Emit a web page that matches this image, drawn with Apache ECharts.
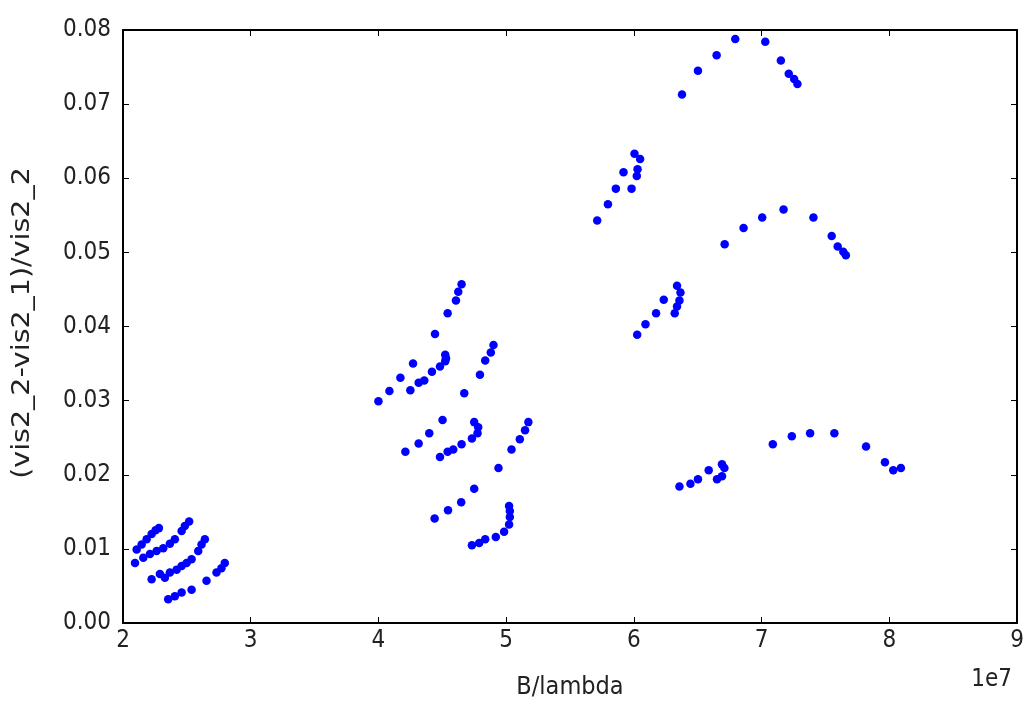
<!DOCTYPE html>
<html>
<head>
<meta charset="utf-8">
<script src="https://cdn.jsdelivr.net/npm/echarts@6/dist/echarts.min.js"></script>
<style>
html,body{margin:0;padding:0;background:#fff;}
#chart{width:1032px;height:705px;}
</style>
</head>
<body>
<div id="chart"></div>
<script>
// B/lambda values in units of 1e7 (axis shows offset "1e7")
const xScale = 1e7;
const xTicks = [2, 3, 4, 5, 6, 7, 8, 9];
const yTicks = [0, 0.01, 0.02, 0.03, 0.04, 0.05, 0.06, 0.07, 0.08];
const xName = 'B/lambda';
const yName = '(vis2_2-vis2_1)/vis2_2';

const bLambda = [
  // short baselines cluster
  2.107, 2.146, 2.185, 2.224, 2.255, 2.281,
  2.459, 2.484, 2.518,
  2.094, 2.159, 2.211, 2.263, 2.315, 2.367, 2.406,
  2.589, 2.615, 2.641,
  2.224, 2.289, 2.328, 2.367, 2.420, 2.459, 2.498, 2.537,
  2.654, 2.732, 2.771, 2.797,
  2.354, 2.406, 2.459, 2.537,
  // middle cluster
  4.443, 4.542, 4.607, 4.625, 4.651,
  4.000, 4.086, 4.172, 4.271,
  4.250, 4.315, 4.359, 4.419, 4.482, 4.523, 4.529, 4.523,
  4.672, 4.795, 4.836, 4.880, 4.901,
  4.211, 4.315, 4.398, 4.502,
  4.482, 4.542, 4.586, 4.651, 4.732, 4.776, 4.781, 4.750,
  4.940, 5.042, 5.107, 5.148, 5.174,
  4.440, 4.545, 4.648, 4.750,
  4.732, 4.789, 4.836, 4.919, 4.984, 5.023, 5.029, 5.029, 5.023,
  // long baselines
  5.713, 5.797, 5.859, 5.919, 5.982, 6.023, 6.029, 6.005, 6.049,
  6.026, 6.091, 6.174, 6.234, 6.320, 6.338, 6.357, 6.365, 6.338,
  6.377, 6.502, 6.648, 6.794, 7.029, 7.151, 7.213, 7.255, 7.281,
  6.711, 6.859, 7.005, 7.172, 7.406, 7.549, 7.596, 7.640, 7.660,
  6.357, 6.443, 6.502, 6.586, 6.651, 6.690, 6.709, 6.690,
  7.088, 7.237, 7.380, 7.570, 7.818, 7.966, 8.031, 8.091
];

const visRatio = [
  0.0099, 0.0106, 0.0113, 0.0120, 0.0125, 0.0128,
  0.0124, 0.0131, 0.0137,
  0.0081, 0.0088, 0.0093, 0.0097, 0.0101, 0.0107, 0.0113,
  0.0097, 0.0106, 0.0113,
  0.0059, 0.0066, 0.0061, 0.0068, 0.0072, 0.0077, 0.0081, 0.0086,
  0.0057, 0.0068, 0.0074, 0.0081,
  0.0032, 0.0036, 0.0041, 0.0045,
  0.0390, 0.0418, 0.0435, 0.0447, 0.0457,
  0.0299, 0.0313, 0.0331, 0.0350,
  0.0314, 0.0324, 0.0327, 0.0339, 0.0346, 0.0353, 0.0357, 0.0362,
  0.0310, 0.0335, 0.0354, 0.0365, 0.0375,
  0.0231, 0.0242, 0.0256, 0.0274,
  0.0224, 0.0231, 0.0234, 0.0241, 0.0249, 0.0256, 0.0264, 0.0271,
  0.0209, 0.0234, 0.0248, 0.0260, 0.0271,
  0.0141, 0.0152, 0.0163, 0.0181,
  0.0105, 0.0108, 0.0113, 0.0116, 0.0123, 0.0133, 0.0143, 0.0151, 0.0158,
  0.0543, 0.0565, 0.0586, 0.0608, 0.0586, 0.0603, 0.0612, 0.0633, 0.0626,
  0.0389, 0.0403, 0.0418, 0.0436, 0.0418, 0.0427, 0.0435, 0.0446, 0.0455,
  0.0713, 0.0745, 0.0766, 0.0788, 0.0784, 0.0759, 0.0741, 0.0734, 0.0727,
  0.0511, 0.0533, 0.0547, 0.0558, 0.0547, 0.0522, 0.0508, 0.0501, 0.0496,
  0.0184, 0.0188, 0.0194, 0.0206, 0.0194, 0.0198, 0.0209, 0.0214,
  0.0241, 0.0252, 0.0256, 0.0256, 0.0238, 0.0217, 0.0206, 0.0209
];

const points = bLambda.map((b, i) => [b * xScale, visRatio[i]]);

const FONT = "'Liberation Sans Narrow', 'DejaVu Sans Condensed', 'DejaVu Sans', sans-serif";
const FS = 24;

const chart = echarts.init(document.getElementById('chart'), null, {renderer: 'canvas'});

const axisLineStyle = {show: true, onZero: false, lineStyle: {color: '#000', width: 2}};
const tickStyle = {show: true, inside: true, length: 6, lineStyle: {color: '#000', width: 1}};

chart.setOption({
  animation: false,
  backgroundColor: '#fff',
  grid: {left: 123, right: 15, top: 30, bottom: 82, containLabel: false},
  xAxis: [{
    type: 'value', min: xTicks[0] * xScale, max: xTicks[xTicks.length - 1] * xScale, interval: xScale,
    axisLine: axisLineStyle, axisTick: tickStyle, splitLine: {show: false},
    axisLabel: {color: '#222', fontFamily: FONT, fontSize: FS, margin: 6,
      formatter: v => String(Math.round(v / xScale))},
    name: xName, nameLocation: 'middle', nameGap: 52,
    nameTextStyle: {color: '#222', fontFamily: FONT, fontSize: 25}
  }, {
    type: 'value', position: 'top', min: xTicks[0] * xScale, max: xTicks[xTicks.length - 1] * xScale, interval: xScale,
    axisLine: axisLineStyle, axisTick: tickStyle, axisLabel: {show: false}, splitLine: {show: false}
  }],
  yAxis: [{
    type: 'value', min: yTicks[0], max: yTicks[yTicks.length - 1], interval: 0.01,
    axisLine: axisLineStyle, axisTick: tickStyle, splitLine: {show: false},
    axisLabel: {color: '#222', fontFamily: FONT, fontSize: FS, margin: 12,
      formatter: v => v.toFixed(2)}
  }, {
    type: 'value', position: 'right', min: yTicks[0], max: yTicks[yTicks.length - 1], interval: 0.01,
    axisLine: axisLineStyle, axisTick: tickStyle, axisLabel: {show: false}, splitLine: {show: false}
  }],
  graphic: [{
    type: 'text', right: 20, top: 668,
    style: {text: '1e7', fill: '#222', font: FS + 'px ' + FONT}
  }, {
    type: 'text', x: 23, y: 323, rotation: Math.PI / 2, scaleX: 1.32,
    style: {text: yName, fill: '#222', font: '24px ' + FONT, align: 'center', verticalAlign: 'middle'}
  }],
  series: [{
    type: 'scatter', xAxisIndex: 0, yAxisIndex: 0,
    data: points, symbol: 'circle', symbolSize: 8.5,
    itemStyle: {color: '#0000ff', opacity: 1}
  }]
});
</script>
</body>
</html>
